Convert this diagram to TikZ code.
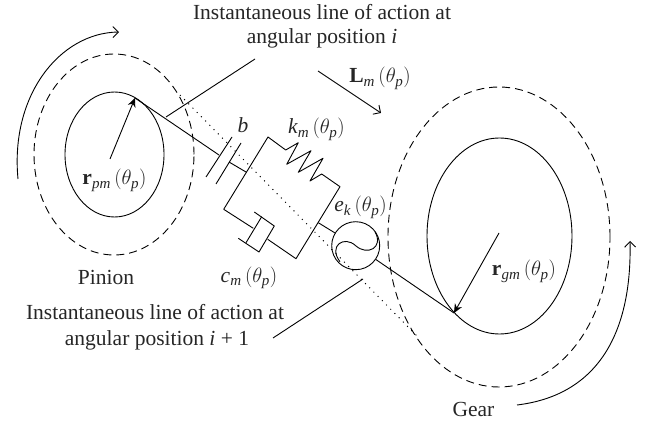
\documentclass[tikz,border=0pt]{standalone}
\usepackage{fontspec}
\setmainfont{Liberation Serif}
\usetikzlibrary{arrows.meta,shapes.geometric}
\newcommand{\thetap}{\,(\theta_{\mathit{p}})}

\begin{document}
\begin{tikzpicture}[
  x=1pt,y=-1pt,
  wheel/.style={ellipse,draw,line width=0.9pt,inner sep=0pt},
  pitch/.style={ellipse,draw,line width=0.9pt,inner sep=0pt,dash pattern=on 8pt off 5pt},
  edge/.style={line width=0.9pt,line join=round},
  radius/.style={edge,-{Stealth[length=9pt,width=8pt]}},
  motion/.style={edge,-{Straight Barb[length=5.5pt,width=11pt]}},
  dots/.style={line width=1pt,dash pattern=on 1pt off 5pt},
  lbl/.style={font=\fontsize{21.5}{24}\selectfont,text=black!85,inner sep=0pt,anchor=base},
  source/.style={circle,draw,line width=0.9pt,minimum size=48pt,inner sep=0pt}
]
\useasboundingbox (0,0) rectangle (646,425);

\node[wheel,minimum width=99pt,minimum height=125pt] (pinion) at (114.5,154.5) {};
\node[pitch,minimum width=160pt,minimum height=201pt] (pinionpitch) at (114,154.5) {};
\node[wheel,minimum width=145pt,minimum height=196pt] (gear) at (499.5,236) {};
\node[pitch,minimum width=222pt,minimum height=300pt] (gearpitch) at (499,237) {};
\node[source] (ek) at (355.7,245.7) {};

\coordinate (pt) at (135,98);
\coordinate (gt) at (454,313);
\coordinate (pc) at (110,159);
\coordinate (gc) at (499,233);
\coordinate (a1) at (206,177);
\coordinate (a2) at (232,137);
\coordinate (b1) at (216,184);
\coordinate (b2) at (241,143);
\coordinate (p1) at (219,155);
\coordinate (p2) at (229,162);
\coordinate (p3) at (246,172);
\coordinate (q1) at (223.7,209.3);
\coordinate (q2) at (268,137);
\coordinate (q3) at (340,186.7);
\coordinate (q4) at (296,258.7);
\coordinate (q5) at (318.3,222.7);

% line of action
\draw[edge] (pt)--(p1);
\draw[edge] (a1)--(a2);
\draw[edge] (b1)--(b2);
\draw[edge] (p2)--(p3);
\draw[edge] (q5)--(ek);
\draw[edge] (ek)--(gt);
\draw[dots] (180,95)--(418,337);

% spring and damper
\draw[edge] (q1)--(q2)--(285.7,150)--(298.3,142.7)--(286.7,164.3)--(311,150.7)--(298.3,172.3)--(323,158.3)--(310,181)--(321.7,174)--(q3)--(q4)--(267.7,239.3);
\draw[edge] (q1)--(253.3,228.3);
\draw[edge] (254.3,212)--(274.3,226)--(259,252)--(238.3,238.3);
\draw[edge] (261.7,216.7)--(246,242.7);

% source symbol
\draw[edge] (375,231.7) .. controls (384,248) and (367,256) .. (355.7,245.7);
\draw[edge] (355.7,245.7) .. controls (344,235) and (328,246) .. (340,261.7);

% radii
\draw[radius] (pc)--(pt);
\draw[radius] (gc)--(gt);

% rotation and force arrows
\draw[motion] (18,179) .. controls (10,95) and (60,33) .. (119,32);
\draw[motion] (517,405) .. controls (600,395) and (632,330) .. (630,241);
\draw[motion] (318,71)--(381,113);

% leaders
\coordinate (top1) at (166,117);
\coordinate (top2) at (255,59);
\coordinate (low1) at (363,279);
\coordinate (low2) at (273,338);
\draw[edge] (top1)--(top2);
\draw[edge] (low1)--(low2);

% labels
\node[lbl] (lineitop) at (322,20) {Instantaneous line of action at};
\node[lbl] (lineibot) at (322,44) {angular position \textit{i}};
\node[lbl] (linejtop) at (155,319) {Instantaneous line of action at};
\node[lbl] (linejbot) at (157,345) {angular position \textit{i} + 1};
\node[lbl] (lm) at (380,83) {$\mathbf{L}_{\mathit{m}}\thetap$};
\node[lbl] (rpm) at (114.5,185) {$\mathbf{r}_{\mathit{pm}}\thetap$};
\node[lbl] (rgm) at (524,276) {$\mathbf{r}_{\mathit{gm}}\thetap$};
\node[lbl] (bl) at (243,133) {$\mathit{b}$};
\node[lbl] (km) at (316.5,134) {$\mathit{k}_{\mathit{m}}\thetap$};
\node[lbl] (cm) at (249,282) {$\mathit{c}_{\mathit{m}}\thetap$};
\node[lbl] (ekl) at (360.5,212) {$\mathit{e}_{\mathit{k}}\thetap$};
\node[lbl] (pn) at (106,284) {Pinion};
\node[lbl] (gr) at (473.5,416) {Gear};
\end{tikzpicture}
\end{document}
